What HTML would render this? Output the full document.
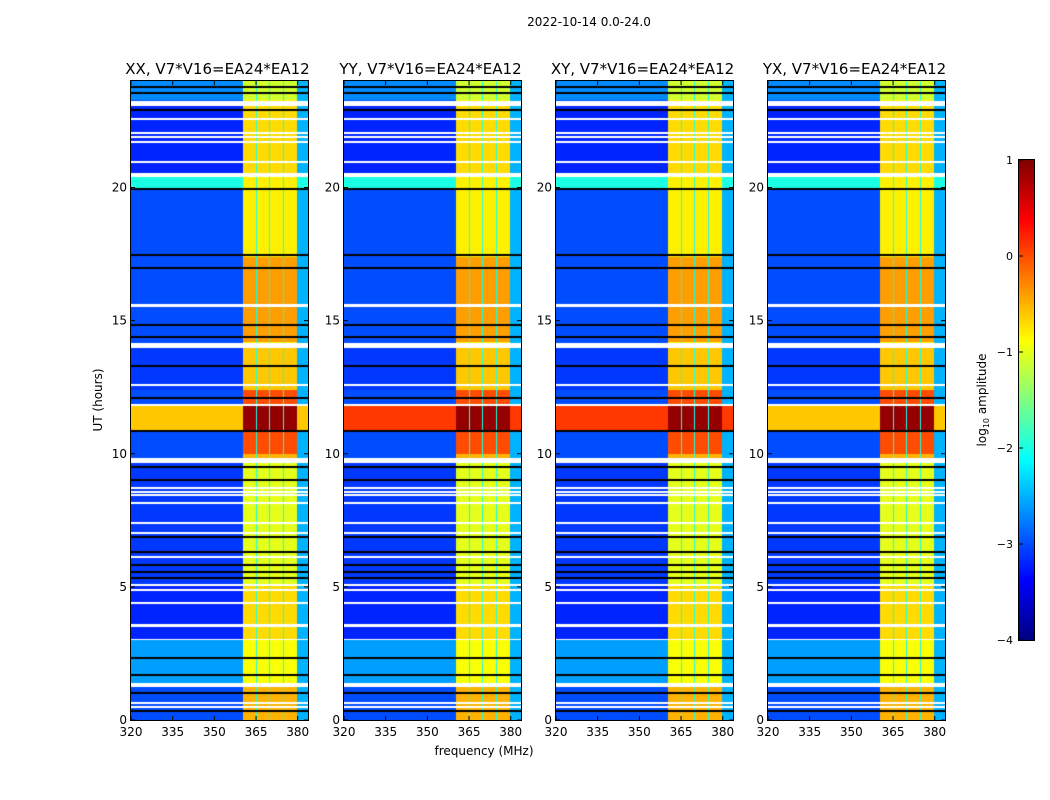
<!DOCTYPE html>
<html><head><meta charset="utf-8"><style>
body{margin:0;background:#fff;width:1050px;height:800px;overflow:hidden;position:relative;font-family:"DejaVu Sans","Liberation Sans",sans-serif}
canvas{position:absolute}
svg{position:absolute;left:0;top:0;font-family:"DejaVu Sans","Liberation Sans",sans-serif}
</style></head><body>
<canvas id="c0" width="177" height="639" style="left:131px;top:81px"></canvas>
<canvas id="c1" width="177" height="639" style="left:344px;top:81px"></canvas>
<canvas id="c2" width="177" height="639" style="left:556px;top:81px"></canvas>
<canvas id="c3" width="177" height="639" style="left:768px;top:81px"></canvas>
<canvas id="cb" width="15" height="480" style="left:1019px;top:160px"></canvas>
<svg id="ax" width="1050" height="800"></svg>
<script>
// ---- data ----
const panelTitles=["XX, V7*V16=EA24*EA12","YY, V7*V16=EA24*EA12","XY, V7*V16=EA24*EA12","YX, V7*V16=EA24*EA12"];
const xTicks=[320,335,350,365,380];
const yTicks=[0,5,10,15,20];
const cbTicks=[1,0,-1,-2,-3,-4];
// time segments: [startHour, endHour, lowBandLevel, highBandLevel]
const segStart=[23.3,20.55,20.0,17.55,14.2,12.4,11.85,10.9,10.0,9.84,5.1,3.0,1.4,0];
const segEnd  =[24,23.05,20.4,19.94,17.4,13.97,12.4,11.8,10.85,10.0,9.65,5.1,3.0,1.24];
const segLow  =[-2.7,-3.2,-2.0,-3.0,-3.0,-3.1,-3.0,-0.4,-3.0,-3.0,-3.1,-3.2,-2.6,-3.0];
const segHigh =[-1.1,-0.7,-0.8,-0.8,-0.4,-0.6,0.0,0.9,0.0,-0.5,-1.0,-0.7,-0.9,-0.5];
// per-panel level of the broadband interference at ~11 h
const rfiLevel=[-0.6,0.1,0.1,-0.6];
// high-band channel blocks (MHz)
const blockStart=[360.3,365.4,370.2,375.2];
const blockEnd=[365.0,369.8,374.8,379.7];
const gapLevel=-2.0, edgeLevel=-2.5;
// flagged rows (white) [start,end] hours
const whiteStart=[23.06,22.54,22.02,21.87,21.68,20.93,20.41,15.51,13.97,12.55,11.80,9.65,8.68,8.53,8.42,8.12,7.37,6.99,6.09,5.04,4.85,4.36,3.49,3.0,1.24,0.61,0.46];
const whiteEnd  =[23.25,22.60,22.08,21.93,21.74,20.99,20.55,15.62,14.16,12.61,11.86,9.84,8.74,8.59,8.48,8.18,7.43,7.05,6.15,5.10,4.91,4.42,3.61,3.04,1.39,0.67,0.52];
// dark rows (black) centre hours
const blackRows=[23.77,23.55,22.90,19.94,17.47,16.98,14.84,14.39,13.30,12.09,10.85,9.50,9.01,6.87,6.31,5.82,5.56,5.33,2.33,1.69,1.01,0.34];
// ---- scales ----
const W=177,H=639,F0=320,F1=383.7,T1=24;
const fx=f=>(f-F0)/(F1-F0)*W, ty=t=>H-t/T1*H;
const xpix=p=>F0+(p+0.5)/W*(F1-F0), ypix=p=>T1*(1-(p+0.5)/H);
function jet(v){let t=(v+4)/5;t=Math.max(0,Math.min(1,t));
 const c=x=>Math.round(255*Math.max(0,Math.min(1,x)));
 return [c(1.5-Math.abs(4*t-3)),c(1.5-Math.abs(4*t-2)),c(1.5-Math.abs(4*t-1))];}
function value(panel,f,t){
 for(let i=0;i<whiteStart.length;i++) if(t>=whiteStart[i]&&t<=whiteEnd[i]) return null;
 for(const b of blackRows) if(Math.abs(t-b)<0.035) return -99;
 let lo=-3.0,hi=-0.8;
 for(let i=0;i<segStart.length;i++) if(t>=segStart[i]&&t<segEnd[i]){lo=segLow[i];hi=segHigh[i];break;}
 if(t>=10.9&&t<11.8) lo=rfiLevel[panel];
 if(f>=blockStart[0]&&f<blockEnd[blockEnd.length-1]){
  for(let i=0;i<blockStart.length;i++) if(f>=blockStart[i]&&f<blockEnd[i]) return hi;
  return gapLevel;
 }
 if(f>=blockEnd[blockEnd.length-1]) return Math.max(lo,edgeLevel);
 return lo;
}
for(let p=0;p<4;p++){
 const cv=document.getElementById('c'+p),ctx=cv.getContext('2d'),img=ctx.createImageData(W,H);
 for(let y=0;y<H;y++){const t=ypix(y);for(let x=0;x<W;x++){
  const v=value(p,xpix(x),t);const k=(y*W+x)*4;let c;
  if(v===null)c=[255,255,255];else if(v<-10)c=[0,0,0];else c=jet(v);
  img.data[k]=c[0];img.data[k+1]=c[1];img.data[k+2]=c[2];img.data[k+3]=255;}}
 ctx.putImageData(img,0,0);
}
{const cv=document.getElementById('cb'),ctx=cv.getContext('2d');
 for(let y=0;y<480;y++){const c=jet(1-(y+0.5)/480*5);ctx.fillStyle=`rgb(${c})`;ctx.fillRect(0,y,15,1);}}
// ---- axes ----
const svg=document.getElementById('ax'),NS='http://www.w3.org/2000/svg';
function mk(tag,attrs,txt){const e=document.createElementNS(NS,tag);for(const k in attrs)e.setAttribute(k,attrs[k]);if(txt!==undefined)e.textContent=txt;svg.appendChild(e);return e;}
const lefts=[131,344,556,768],top0=81;
lefts.forEach((L,p)=>{
 let r=mk('rect',{x:L-0.5,y:top0-0.5,width:W+1,height:H+1,fill:'none',stroke:'#000','stroke-width':1});
 
 
 let tt=mk('text',{x:L+W/2-2,y:74,'text-anchor':'middle','font-size':15},panelTitles[p]);
 
 
 xTicks.forEach(v=>{const X=L+fx(v);
  mk('line',{x1:X,x2:X,y1:top0+H,y2:top0+H-4,stroke:'#000'});
  mk('line',{x1:X,x2:X,y1:top0,y2:top0+4,stroke:'#000'});
  let t=mk('text',{x:X,y:736,'text-anchor':'middle','font-size':12},v);
  
  });
 yTicks.forEach(v=>{const Y=top0+ty(v);
  mk('line',{x1:L,x2:L+4,y1:Y,y2:Y,stroke:'#000'});
  mk('line',{x1:L+W,x2:L+W-4,y1:Y,y2:Y,stroke:'#000'});
  let t=mk('text',{x:L-4,y:Y+4,'text-anchor':'end','font-size':12},v);
  
  });
});
let st=mk('text',{x:589,y:26,'text-anchor':'middle','font-size':12},'2022-10-14 0.0-24.0');


let xl=mk('text',{x:484,y:755,'text-anchor':'middle','font-size':12},'frequency (MHz)');


let yl=mk('text',{x:102,y:400,'text-anchor':'middle','font-size':12,transform:'rotate(-90 102 400)'},'UT (hours)');


mk('rect',{x:1018.5,y:159.5,width:16,height:481,fill:'none',stroke:'#000'});
cbTicks.forEach(v=>{const Y=160+(1-v)/5*480;
 mk('line',{x1:1019,x2:1023,y1:Y,y2:Y,stroke:'#000'});
 let t=mk('text',{x:1013,y:Y+4,'text-anchor':'end','font-size':11},v<0?'\u2212'+(-v):v);
 
 });
let cl=mk('text',{x:986,y:400,'text-anchor':'middle','font-size':12,transform:'rotate(-90 986 400)'},'');


cl.innerHTML='log<tspan font-size="8" dy="3">10</tspan><tspan dy="-3"> amplitude</tspan>';
</script>
</body></html>
